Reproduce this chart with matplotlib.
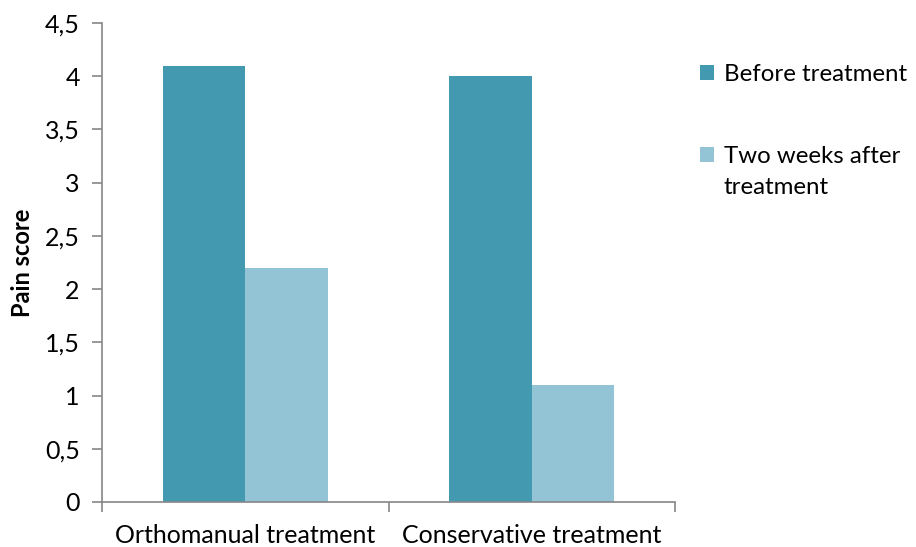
import matplotlib.pyplot as plt
import numpy as np

plt.rcParams['font.family'] = ['Lato', 'DejaVu Sans']

# pain scores per treatment group
groups = ['Orthomanual treatment', 'Conservative treatment']
before = [4.1, 4.0]
after_two_weeks = [2.2, 1.1]
series_names = ['Before treatment', 'Two weeks after', 'treatment']

y_ticks = [0, 0.5, 1, 1.5, 2, 2.5, 3, 3.5, 4, 4.5]
y_tick_labels = ['0', '0,5', '1', '1,5', '2', '2,5', '3', '3,5', '4', '4,5']

dark = '#4399B0'
light = '#93C4D5'
axis_grey = '#868686'
fs = 18
leg_fs = 17.3

fig = plt.figure(figsize=(9.16, 5.47), dpi=100)
ax = fig.add_axes([0.1114, 0.0823, 0.6255, 0.8757])

x = np.arange(len(groups))
w = 0.288
ax.bar(x - w / 2, before, width=w, color=dark, label=series_names[0])
ax.bar(x + w / 2, after_two_weeks, width=w, color=light, label=series_names[1])

ax.set_xlim(-0.5, len(groups) - 0.5)
ax.set_ylim(0, 4.5)
ax.set_yticks(y_ticks)
ax.set_yticklabels(y_tick_labels)

# category labels sit between the boundary ticks
ax.set_xticks(x)
ax.set_xticklabels(groups)
ax.tick_params(axis='x', length=0, labelsize=fs, pad=16)
ax.set_xticks(np.arange(len(groups) + 1) - 0.5, minor=True)
ax.tick_params(axis='x', which='minor', length=7, color=axis_grey, width=1.2)
ax.tick_params(axis='y', length=7, color=axis_grey, width=1.2, labelsize=fs, pad=9)

for side in ['top', 'right']:
    ax.spines[side].set_visible(False)
for side in ['left', 'bottom']:
    ax.spines[side].set_color(axis_grey)
    ax.spines[side].set_linewidth(1.2)

ax.set_ylabel('Pain score', fontsize=17, fontweight='bold', labelpad=8)

leg = ax.legend(loc='upper left', bbox_to_anchor=(1.006, 0.96), frameon=False,
                fontsize=leg_fs, handlelength=0.58, handleheight=0.58,
                handletextpad=0.4, labelspacing=2.55)

# second line of the long legend label, under its first line
fig.canvas.draw()
bb = leg.get_texts()[1].get_window_extent().transformed(fig.transFigure.inverted())
fig.text(bb.x0, bb.y0 - 31 / 547, series_names[2], fontsize=leg_fs,
         ha='left', va='bottom')

fig.savefig('out.png', dpi=100)
